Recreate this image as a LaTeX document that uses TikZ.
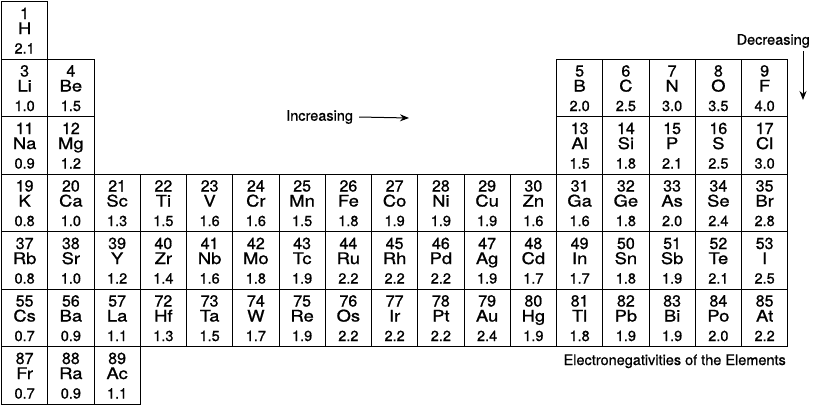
\documentclass[tikz,border=0pt]{standalone}
\usepackage{fontspec}
\setmainfont{TeX Gyre Heros}
\newfontfamily\symfont[FakeStretch=1.15, FakeBold=1]{TeX Gyre Heros}
\newfontfamily\numfont[FakeBold=1]{TeX Gyre Heros}
\newfontfamily\notefont[FakeBold=0.6]{TeX Gyre Heros}
\usetikzlibrary{positioning, arrows.meta}

\begin{document}
\begin{tikzpicture}[
  x=46.25pt, y=-57.5pt,
  cell/.style={draw, line width=1pt, rectangle, minimum width=46.25pt, minimum height=57.5pt, inner sep=0pt, anchor=north west},
  num/.style={anchor=base, inner sep=0pt, font=\numfont\fontsize{16}{18}\selectfont},
  sym/.style={anchor=base, inner sep=0pt, font=\symfont\fontsize{16}{18}\selectfont},
  val/.style={anchor=base, inner sep=0pt, font=\numfont\fontsize{14.5}{16}\selectfont},
  note/.style={inner sep=0pt, font=\notefont\fontsize{14.5}{16}\selectfont},
  arrow/.style={line width=1pt, -{Stealth[length=9pt, width=7pt]}}
]
\useasboundingbox (-1pt,1pt) rectangle (815pt,-404pt);

% Elements: column/row/number/symbol/value
\foreach \c/\r/\n/\s/\v in {
  1/1/1/H/2.1,
  1/2/3/Li/1.0, 2/2/4/Be/1.5,
  13/2/5/B/2.0, 14/2/6/C/2.5, 15/2/7/N/3.0, 16/2/8/O/3.5, 17/2/9/F/4.0,
  1/3/11/Na/0.9, 2/3/12/Mg/1.2,
  13/3/13/Al/1.5, 14/3/14/Si/1.8, 15/3/15/P/2.1, 16/3/16/S/2.5, 17/3/17/Cl/3.0,
  1/7/87/Fr/0.7, 2/7/88/Ra/0.9, 3/7/89/Ac/1.1}
{
  \node[cell] (\s) at (\c-1,\r-1) {};
  \node[num, yshift=-18pt] at (\s.north) {\n};
  \node[sym, yshift=-33pt] at (\s.north) {\s};
  \node[val, yshift=-52.5pt] at (\s.north) {\v};
}

% Full rows
\foreach \r/\row in {
  4/{19/K/0.8, 20/Ca/1.0, 21/Sc/1.3, 22/Ti/1.5, 23/V/1.6, 24/Cr/1.6, 25/Mn/1.5, 26/Fe/1.8, 27/Co/1.9, 28/Ni/1.9, 29/Cu/1.9, 30/Zn/1.6, 31/Ga/1.6, 32/Ge/1.8, 33/As/2.0, 34/Se/2.4, 35/Br/2.8},
  5/{37/Rb/0.8, 38/Sr/1.0, 39/Y/1.2, 40/Zr/1.4, 41/Nb/1.6, 42/Mo/1.8, 43/Tc/1.9, 44/Ru/2.2, 45/Rh/2.2, 46/Pd/2.2, 47/Ag/1.9, 48/Cd/1.7, 49/In/1.7, 50/Sn/1.8, 51/Sb/1.9, 52/Te/2.1, 53/I/2.5},
  6/{55/Cs/0.7, 56/Ba/0.9, 57/La/1.1, 72/Hf/1.3, 73/Ta/1.5, 74/W/1.7, 75/Re/1.9, 76/Os/2.2, 77/Ir/2.2, 78/Pt/2.2, 79/Au/2.4, 80/Hg/1.9, 81/Tl/1.8, 82/Pb/1.9, 83/Bi/1.9, 84/Po/2.0, 85/At/2.2}}
{
  \foreach \n/\s/\v [count=\c] in \row {
    \node[cell] (\s) at (\c-1,\r-1) {};
    \node[num, yshift=-18pt] at (\s.north) {\n};
    \node[sym, yshift=-33pt] at (\s.north) {\s};
    \node[val, yshift=-52.5pt] at (\s.north) {\v};
  }
}

% Trends
\node[note, anchor=west] (inc) at (285pt,-116pt) {Increasing};
\coordinate (incend) at (408pt,-117pt);
\draw[arrow] ([xshift=6pt]inc.east) -- (incend);

\node[note, anchor=east] (dec) at (809pt,-40pt) {Decreasing};
\coordinate (decstart) at (802pt,-50pt);
\coordinate (decend) at (802pt,-99pt);
\draw[arrow] (decstart) -- (decend);

% Caption
\node[note, anchor=base east] (caption) at (785pt,-364pt) {Electronegativities of the Elements};

\end{tikzpicture}
\end{document}
